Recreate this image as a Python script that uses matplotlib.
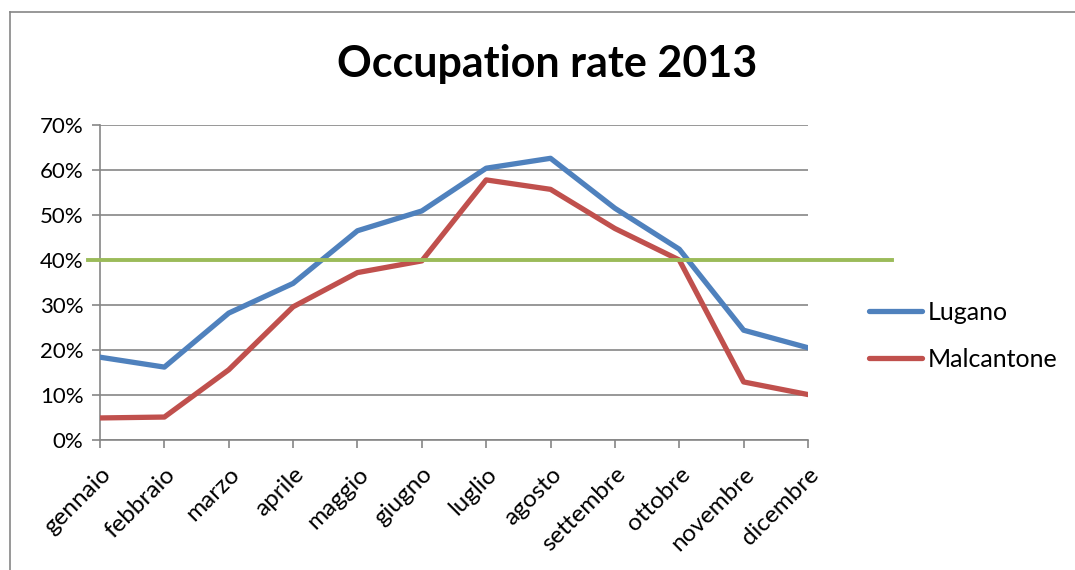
import matplotlib
matplotlib.use("Agg")
import matplotlib.pyplot as plt
from matplotlib.lines import Line2D
from matplotlib.ticker import PercentFormatter

# data
months = ["gennaio", "febbraio", "marzo", "aprile", "maggio", "giugno",
          "luglio", "agosto", "settembre", "ottobre", "novembre", "dicembre"]
lugano = [0.184, 0.162, 0.282, 0.348, 0.465, 0.509,
          0.604, 0.626, 0.515, 0.424, 0.244, 0.205]
malcantone = [0.049, 0.051, 0.156, 0.296, 0.372, 0.398,
              0.578, 0.557, 0.470, 0.400, 0.129, 0.101]
threshold = 0.40
y_ticks = [0.0, 0.1, 0.2, 0.3, 0.4, 0.5, 0.6, 0.7]

BLUE = "#4F81BD"
RED = "#C0504D"
GREEN = "#9BBB59"
GRID = "#868686"

plt.rcParams["font.family"] = ["Lato", "DejaVu Sans"]

W, H, DPI = 1075, 570, 100
fig = plt.figure(figsize=(W / DPI, H / DPI), dpi=DPI)
ax = fig.add_axes([100 / W, 1 - 440 / H, 708 / W, 315 / H])

x = range(len(months))
ax.plot(x, lugano, color=BLUE, lw=3.8, solid_capstyle="round", label="Lugano", zorder=3)
ax.plot(x, malcantone, color=RED, lw=3.8, solid_capstyle="round", label="Malcantone", zorder=3)
# target line, sticks out past the plot area like in the original
ax.axhline(threshold, xmin=-12 / 708, xmax=1 + 84 / 708, color=GREEN, lw=2.8,
           clip_on=False, zorder=4)

ax.set_xlim(0, len(months) - 1)
ax.set_ylim(0, 0.7)
ax.set_yticks(y_ticks)
ax.yaxis.set_major_formatter(PercentFormatter(1.0, decimals=0))
ax.set_xticks(list(x))
ax.set_xticklabels(months, rotation=45, ha="right", rotation_mode="anchor")
ax.grid(axis="y", color=GRID, lw=1.2)
ax.set_axisbelow(True)

for s in ["top", "right"]:
    ax.spines[s].set_visible(False)
for s in ["left", "bottom"]:
    ax.spines[s].set_color(GRID)
    ax.spines[s].set_linewidth(1.2)
ax.tick_params(axis="both", colors=GRID, length=6, width=1.2, labelcolor="black")
ax.tick_params(axis="x", pad=11, labelsize=17.5)
ax.tick_params(axis="y", pad=6, labelsize=16)

fig.text(547 / W, 1 - 64 / H, "Occupation rate 2013", ha="center", va="center",
         fontsize=31, fontweight="bold")

ax.legend(loc="center left", bbox_to_anchor=(846 / W, 1 - 336 / H),
          bbox_transform=fig.transFigure, frameon=False, fontsize=18,
          handlelength=2.15, handletextpad=0.2, labelspacing=0.95)

# outer chart frame (only left and top visible in the crop)
fig.add_artist(Line2D([10 / W, 10 / W], [0, 1 - 12 / H], color=GRID, lw=1.2))
fig.add_artist(Line2D([10 / W, 1], [1 - 12 / H, 1 - 12 / H], color=GRID, lw=1.2))

fig.savefig("out.png", dpi=DPI)
